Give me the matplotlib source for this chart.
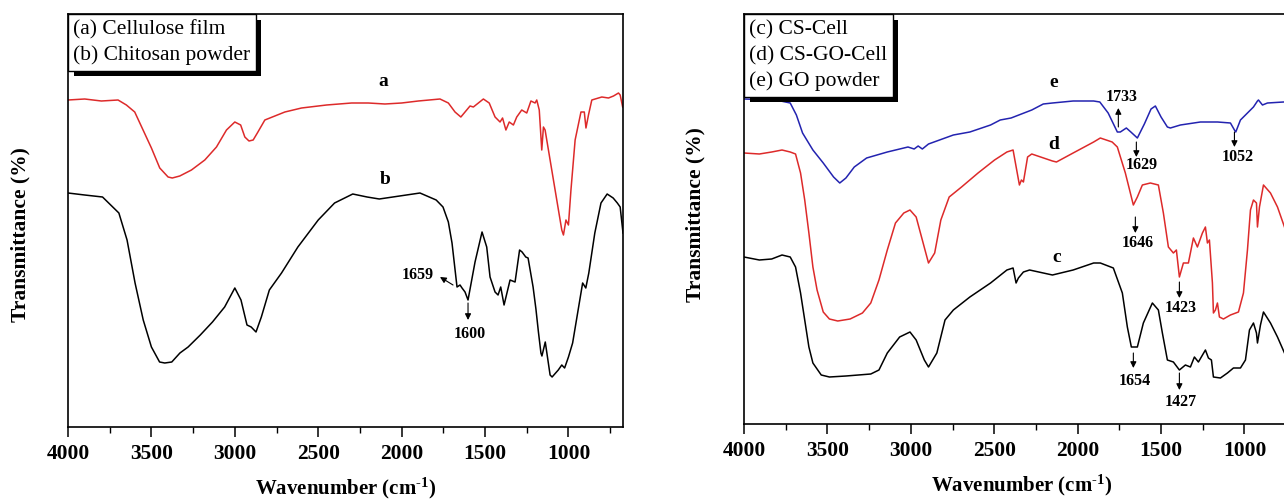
import numpy as np
import matplotlib.pyplot as plt
import matplotlib.patheffects as pe
from matplotlib.lines import Line2D
from matplotlib.ticker import MultipleLocator

plt.rcParams['font.family'] = ['Liberation Serif', 'DejaVu Serif']
plt.rcParams['mathtext.fontset'] = 'custom'
plt.rcParams['mathtext.rm'] = 'Liberation Serif:bold'
plt.rcParams['mathtext.bf'] = 'Liberation Serif:bold'
plt.rcParams['mathtext.default'] = 'bf'

# FTIR spectra, transmittance in arbitrary units (curves are offset)
# (a) cellulose film
wn_a = [4000, 3900, 3800, 3700, 3650, 3600, 3550, 3500, 3450, 3400, 3375, 3330, 3260, 3180,
        3110, 3050, 3000, 2965, 2940, 2915, 2890, 2865, 2820, 2700, 2600, 2450, 2300, 2200,
        2100, 2000, 1900, 1770, 1720, 1680, 1645, 1610, 1590, 1570, 1540, 1510, 1475, 1440,
        1410, 1395, 1375, 1355, 1330, 1310, 1280, 1250, 1225, 1200, 1190, 1175, 1160, 1150,
        1140, 1110, 1070, 1040, 1030, 1015, 1000, 985, 960, 925, 905, 895, 880, 860, 800,
        760, 730, 700, 690, 675]
t_a = [327, 328, 326, 327, 322, 315, 297, 279, 259, 250, 249, 251, 257, 267,
       280, 297, 305, 302, 290, 286, 287, 294, 307, 315, 319, 322, 324, 324,
       323, 324, 326, 328, 324, 315, 310, 317, 321, 320, 324, 328, 324, 310,
       305, 309, 297, 305, 302, 310, 317, 314, 326, 324, 327, 317, 277, 300,
       297, 267, 227, 197, 192, 207, 202, 237, 287, 315, 315, 299, 312, 327, 330,
       329, 331, 334, 332, 320]

# (b) chitosan powder
wn_b = [4000, 3900, 3793, 3695, 3646, 3598, 3549, 3500, 3451, 3420, 3378, 3329, 3280, 3207,
        3134, 3061, 3000, 2963, 2927, 2902, 2873, 2841, 2793, 2720, 2622, 2500, 2402, 2293,
        2207, 2134, 2012, 1890, 1793, 1752, 1720, 1698, 1668, 1650, 1638, 1620, 1602, 1560,
        1518, 1490, 1470, 1440, 1422, 1406, 1386, 1350, 1320, 1293, 1278, 1256, 1242, 1212,
        1195, 1180, 1165, 1159, 1139, 1110, 1098, 1061, 1040, 1023, 1000, 975, 939, 915, 896,
        878, 842, 805, 768, 732, 707, 690, 673]
t_b = [234, 232, 230, 214, 187, 144, 107, 80, 65, 64, 65, 74, 80, 92,
       105, 120, 139, 127, 102, 100, 95, 110, 137, 154, 180, 207, 224, 233,
       230, 228, 231, 234, 227, 220, 205, 184, 140, 142, 139, 135, 127, 165,
       195, 180, 150, 135, 132, 140, 122, 147, 145, 177, 175, 170, 169, 140,
       118, 95, 74, 71, 85, 52, 50, 57, 62, 59, 70, 84, 120, 144, 139,
       154, 194, 224, 233, 229, 224, 220, 194]

# (e) GO powder
wn_e = [4000, 3809, 3723, 3686, 3649, 3587, 3525, 3463, 3426, 3389, 3339, 3265, 3141, 3017,
        2980, 2956, 2931, 2894, 2745, 2646, 2522, 2464, 2399, 2275, 2206, 2151, 2027, 1904,
        1867, 1817, 1762, 1744, 1708, 1681, 1642, 1600, 1560, 1534, 1500, 1462, 1444, 1384,
        1264, 1161, 1084, 1060, 1052, 1024, 982, 946, 922, 916, 892, 862, 766, 673]
t_e = [325, 324, 321, 309, 291, 274, 261, 247, 241, 246, 257, 266, 272, 277,
       275, 278, 275, 280, 289, 292, 299, 304, 306, 314, 320, 321, 323, 323,
       322, 311, 292, 292, 296, 292, 286, 300, 315, 318, 307, 297, 296, 299,
       302, 302, 301, 294, 292, 304, 311, 317, 323, 324, 319, 321, 322, 322]

# (d) CS-GO-Cell
wn_d = [4000, 3908, 3834, 3772, 3723, 3691, 3661, 3636, 3611, 3587, 3562, 3525, 3488, 3438,
        3364, 3290, 3240, 3191, 3141, 3092, 3042, 3005, 2968, 2931, 2894, 2857, 2820, 2770,
        2696, 2597, 2498, 2424, 2387, 2362, 2349, 2337, 2325, 2300, 2275, 2151, 2127, 2027,
        1904, 1864, 1793, 1762, 1714, 1684, 1666, 1642, 1612, 1564, 1516, 1486, 1456, 1426,
        1408, 1390, 1366, 1336, 1306, 1282, 1252, 1234, 1222, 1210, 1192, 1186, 1174, 1162,
        1150, 1126, 1084, 1036, 1006, 982, 964, 946, 928, 922, 910, 886, 844, 802, 760, 673]
t_d = [271, 270, 272, 274, 272, 270, 251, 224, 191, 157, 134, 112, 105, 103,
       105, 111, 121, 144, 174, 201, 211, 214, 207, 184, 161, 171, 204, 227,
       237, 251, 264, 272, 274, 251, 239, 244, 242, 267, 270, 263, 262, 271,
       282, 286, 282, 277, 251, 231, 219, 227, 239, 241, 239, 211, 177, 171,
       174, 147, 161, 161, 186, 177, 191, 197, 181, 184, 141, 111, 114, 121,
       107, 105, 109, 112, 131, 174, 214, 224, 221, 197, 217, 239, 231, 217, 197, 150]

# (c) CS-Cell
wn_c = [4000, 3908, 3834, 3772, 3723, 3691, 3661, 3636, 3611, 3587, 3537, 3488, 3389, 3240,
        3191, 3141, 3067, 3005, 2968, 2919, 2894, 2844, 2795, 2745, 2646, 2522, 2424, 2387,
        2369, 2355, 2325, 2288, 2151, 2027, 1904, 1864, 1786, 1732, 1702, 1678, 1642, 1606,
        1552, 1516, 1492, 1462, 1426, 1390, 1354, 1324, 1300, 1276, 1234, 1216, 1198, 1186,
        1144, 1102, 1066, 1024, 994, 970, 946, 928, 922, 904, 886, 844, 802, 760, 673]
t_c = [167, 164, 165, 169, 167, 157, 131, 104, 77, 61, 49, 47, 48, 50,
       54, 71, 87, 92, 84, 64, 57, 71, 104, 114, 127, 141, 154, 156,
       141, 146, 152, 154, 149, 154, 161, 161, 156, 131, 97, 77, 77, 101,
       121, 114, 91, 64, 62, 54, 59, 57, 67, 62, 74, 66, 64, 47,
       46, 51, 56, 56, 64, 94, 101, 91, 81, 99, 112, 101, 87, 71, 35]

RED = '#dd2a2a'
BLUE = '#2323b0'

fig = plt.figure(figsize=(12.84, 4.99), dpi=100)
ax1 = fig.add_axes([68 / 1284, 72 / 499, 555 / 1284, 413 / 499])
ax2 = fig.add_axes([744 / 1284, 75 / 499, 555 / 1284, 410 / 499])

ax1.plot(wn_a, t_a, color=RED, lw=1.1)
ax1.plot(wn_b, t_b, color='k', lw=1.1)
ax2.plot(wn_e, t_e, color=BLUE, lw=1.1)
ax2.plot(wn_d, t_d, color=RED, lw=1.1)
ax2.plot(wn_c, t_c, color='k', lw=1.1)

ax1.set_ylim(0, 413)
ax2.set_ylim(0, 410)

for ax in (ax1, ax2):
    ax.set_xlim(4000, 673)
    ax.xaxis.set_major_locator(MultipleLocator(500))
    ax.xaxis.set_minor_locator(MultipleLocator(250))
    ax.set_yticks([])
    ax.tick_params(axis='x', which='major', direction='out', length=7, width=1.1,
                   labelsize=15.5, pad=5)
    ax.tick_params(axis='x', which='minor', direction='out', length=4, width=1.0)
    for lab in ax.get_xticklabels():
        lab.set_fontweight('bold')
    for s in ax.spines.values():
        s.set_linewidth(1.2)
    ax.set_xlabel('Wavenumber (cm$^{\\text{-1}}$)', fontsize=15, fontweight='bold',
                  labelpad=9)
    ax.set_ylabel('Transmittance (%)', fontsize=15.5, fontweight='bold')

ax1.yaxis.set_label_coords(-0.067, 0.467)
ax2.yaxis.set_label_coords(-0.07, 0.51)


def add_legend(ax, labels):
    handles = [Line2D([], [], lw=0) for _ in labels]
    leg = ax.legend(handles, labels, loc='upper left', bbox_to_anchor=(0, 1),
                    borderaxespad=0, handlelength=0, handletextpad=0,
                    fontsize=15.5, frameon=True, fancybox=False, framealpha=1,
                    edgecolor='k', borderpad=0.25, labelspacing=0.27)
    leg.get_frame().set_linewidth(1.0)
    leg.get_frame().set_path_effects([
        pe.SimplePatchShadow(offset=(4, -4), shadow_rgbFace='k', alpha=1.0),
        pe.Normal()])
    return leg


add_legend(ax1, ['(a) Cellulose film', '(b) Chitosan powder'])
add_legend(ax2, ['(c) CS-Cell', '(d) CS-GO-Cell', '(e) GO powder'])

# curve letters
ax1.text(2112, 345, 'a', fontsize=14, fontweight='bold', ha='center', va='center')
ax1.text(2100, 247, 'b', fontsize=14, fontweight='bold', ha='center', va='center')
ax2.text(2146, 341, 'e', fontsize=14, fontweight='bold', ha='center', va='center')
ax2.text(2146, 279, 'd', fontsize=14, fontweight='bold', ha='center', va='center')
ax2.text(2126, 167, 'c', fontsize=14, fontweight='bold', ha='center', va='center')

arrow = dict(arrowstyle='-|>', color='k', lw=0.8, mutation_scale=9, shrinkA=0, shrinkB=0)


def peak(ax, label, tail, head, txt):
    ax.annotate('', xy=head, xytext=tail, arrowprops=arrow)
    ax.text(txt[0], txt[1], label, fontsize=11.5, fontweight='bold', ha='center', va='center')


peak(ax1, '1659', (1692, 142), (1770, 150), (1902, 152))
peak(ax1, '1600', (1602, 124), (1602, 107), (1590, 93))

peak(ax2, '1733', (1756, 297), (1756, 316), (1738, 327))
peak(ax2, '1629', (1648, 282), (1648, 267), (1618, 259))
peak(ax2, '1052', (1060, 292), (1060, 277), (1042, 267))
peak(ax2, '1646', (1654, 207), (1654, 191), (1642, 181))
peak(ax2, '1423', (1390, 142), (1390, 126), (1384, 116))
peak(ax2, '1654', (1666, 71), (1666, 56), (1660, 43))
peak(ax2, '1427', (1390, 51), (1390, 34), (1384, 22))

fig.savefig('out.png', dpi=100)
